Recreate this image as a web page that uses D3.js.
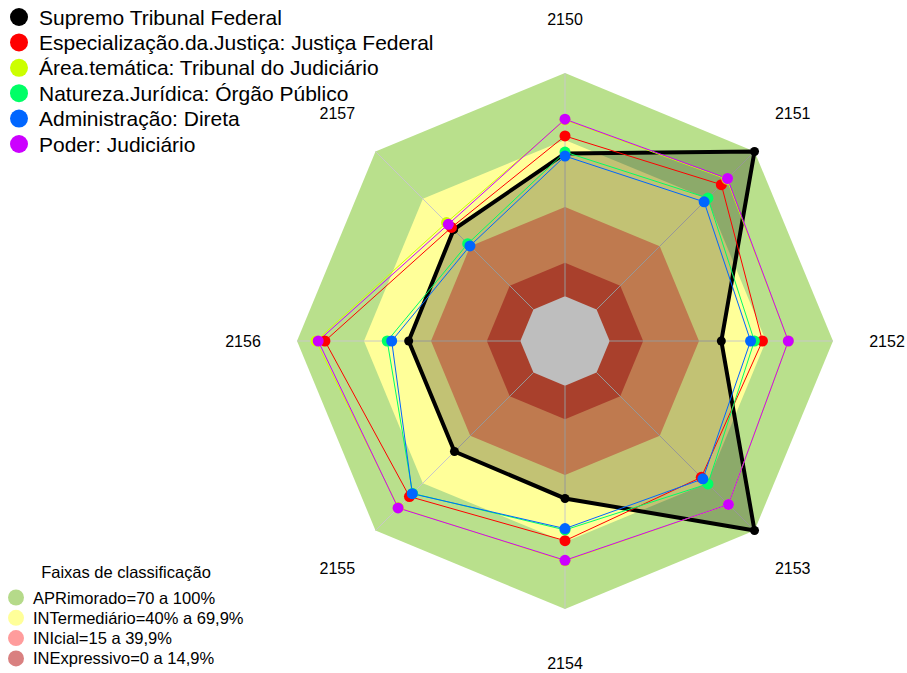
<!DOCTYPE html>
<html>
<head>
<meta charset="utf-8">
<title>Radar</title>
<script src="https://cdn.jsdelivr.net/npm/d3@7"></script>
<style>
  body { margin: 0; background: #fff; }
  text { font-family: "Liberation Sans", Arial, sans-serif; fill: #000; }
</style>
</head>
<body>
<div id="container"></div>
<script>
  // Axes (clockwise from top)
  const axes = ["2150", "2151", "2152", "2153", "2154", "2155", "2156", "2157"];

  // Series values (%)
  const seriesNames = [
    "Supremo Tribunal Federal",
    "Especialização.da.Justiça: Justiça Federal",
    "Área.temática: Tribunal do Judiciário",
    "Natureza.Jurídica: Órgão Público",
    "Administração: Direta",
    "Poder: Judiciário"
  ];
  const supremo      = [64, 100, 50, 100, 50.5, 50, 50, 50.5];
  const justicaFed   = [71.8, 79, 68.4, 66.3, 69.4, 78.5, 87.5, 51.9];
  const areaTematica = [79, 82.5, 80, 83.5, 78.5, 85.5, 91.5, 55];
  const natureza     = [64.6, 70.5, 64.8, 70.5, 64.6, 76.5, 59.6, 41.6];
  const administracao= [62.8, 68.1, 63.1, 67.3, 64, 76.7, 57.6, 40.2];
  const poder        = [79.3, 82.9, 80, 83.5, 78.2, 85.7, 90.5, 53.9];
  const seriesValues = [supremo, justicaFed, areaTematica, natureza, administracao, poder];
  const seriesColors = ["#000000", "#FF0000", "#CCFF00", "#00FF66", "#0066FF", "#CC00FF"];

  // Classification bands
  const bandLabels = ["APRimorado=70 a 100%", "INTermediário=40% a 69,9%", "INIcial=15 a 39,9%", "INExpressivo=0 a 14,9%"];
  const bandLimits = [100, 70, 40, 15];
  const bandColors = ["#B9E08C", "#FFFF99", "#FBA169", "#DE553B"];
  const bandLegendColors = ["#B5DA8A", "#FFFF99", "#FF9C9C", "#D98080"];

  const width = 907, height = 673;
  const cx = 565, cy = 341, R = 268;

  const r = d3.scaleLinear().domain([0, 100]).range([R / 6, R]);
  const angle = d3.scalePoint().domain(axes).range([0, 2 * Math.PI * (axes.length - 1) / axes.length]);

  const radial = d3.lineRadial()
      .angle((d, i) => angle(axes[i]))
      .radius(d => r(d))
      .curve(d3.curveLinearClosed);

  const svg = d3.create("svg")
      .attr("width", width)
      .attr("height", height);

  svg.append("rect").attr("width", width).attr("height", height).attr("fill", "#fff");

  const g = svg.append("g").attr("transform", `translate(${cx},${cy})`);

  // bands
  g.selectAll("path.band")
    .data(bandLimits)
    .join("path")
      .attr("class", "band")
      .attr("d", v => radial(axes.map(() => v)))
      .attr("fill", (v, i) => bandColors[i]);

  // axis lines
  g.selectAll("line.axis")
    .data(axes)
    .join("line")
      .attr("x1", d => r(0) * Math.sin(angle(d)))
      .attr("y1", d => -r(0) * Math.cos(angle(d)))
      .attr("x2", d => R * Math.sin(angle(d)))
      .attr("y2", d => -R * Math.cos(angle(d)))
      .attr("stroke", "#c8c8c8")
      .attr("stroke-width", 1);

  // series
  seriesValues.forEach((vals, si) => {
    const isMain = si === 0;
    g.append("path")
      .attr("d", radial(vals))
      .attr("fill", isMain ? "rgba(0,0,0,0.24)" : "none")
      .attr("stroke", seriesColors[si])
      .attr("stroke-width", isMain ? 4 : 1)
      .attr("stroke-linejoin", "miter");
  });

  // center
  g.append("path")
    .attr("d", radial(axes.map(() => 0)))
    .attr("fill", "#BEBEBE");

  seriesValues.forEach((vals, si) => {
    g.append("g").selectAll("circle")
      .data(vals)
      .join("circle")
        .attr("cx", (d, i) => r(d) * Math.sin(angle(axes[i])))
        .attr("cy", (d, i) => -r(d) * Math.cos(angle(axes[i])))
        .attr("r", si === 0 ? 4.5 : 5.5)
        .attr("fill", seriesColors[si]);
  });

  // axis labels
  g.selectAll("text.lab")
    .data(axes)
    .join("text")
      .attr("x", d => 322 * Math.sin(angle(d)))
      .attr("y", d => -322 * Math.cos(angle(d)))
      .attr("text-anchor", "middle")
      .attr("dominant-baseline", "central")
      .attr("font-size", 16)
      .text(d => d);

  // top legend
  const leg = svg.append("g");
  seriesNames.forEach((name, i) => {
    const y = 17 + i * 25.4;
    leg.append("circle").attr("cx", 19).attr("cy", y).attr("r", 9).attr("fill", seriesColors[i]);
    leg.append("text").attr("x", 39).attr("y", y).attr("dominant-baseline", "central")
      .attr("font-size", 21).text(name);
  });

  // bottom legend
  const leg2 = svg.append("g");
  leg2.append("text").attr("x", 126).attr("y", 572).attr("text-anchor", "middle")
    .attr("dominant-baseline", "central").attr("font-size", 16.5).text("Faixas de classificação");
  bandLabels.forEach((lab, i) => {
    const y = 597.5 + i * 20.3;
    leg2.append("circle").attr("cx", 16).attr("cy", y).attr("r", 8).attr("fill", bandLegendColors[i]);
    leg2.append("text").attr("x", 33).attr("y", y).attr("dominant-baseline", "central")
      .attr("font-size", 16.5).text(lab);
  });

  document.getElementById("container").append(svg.node());
</script>
</body>
</html>
